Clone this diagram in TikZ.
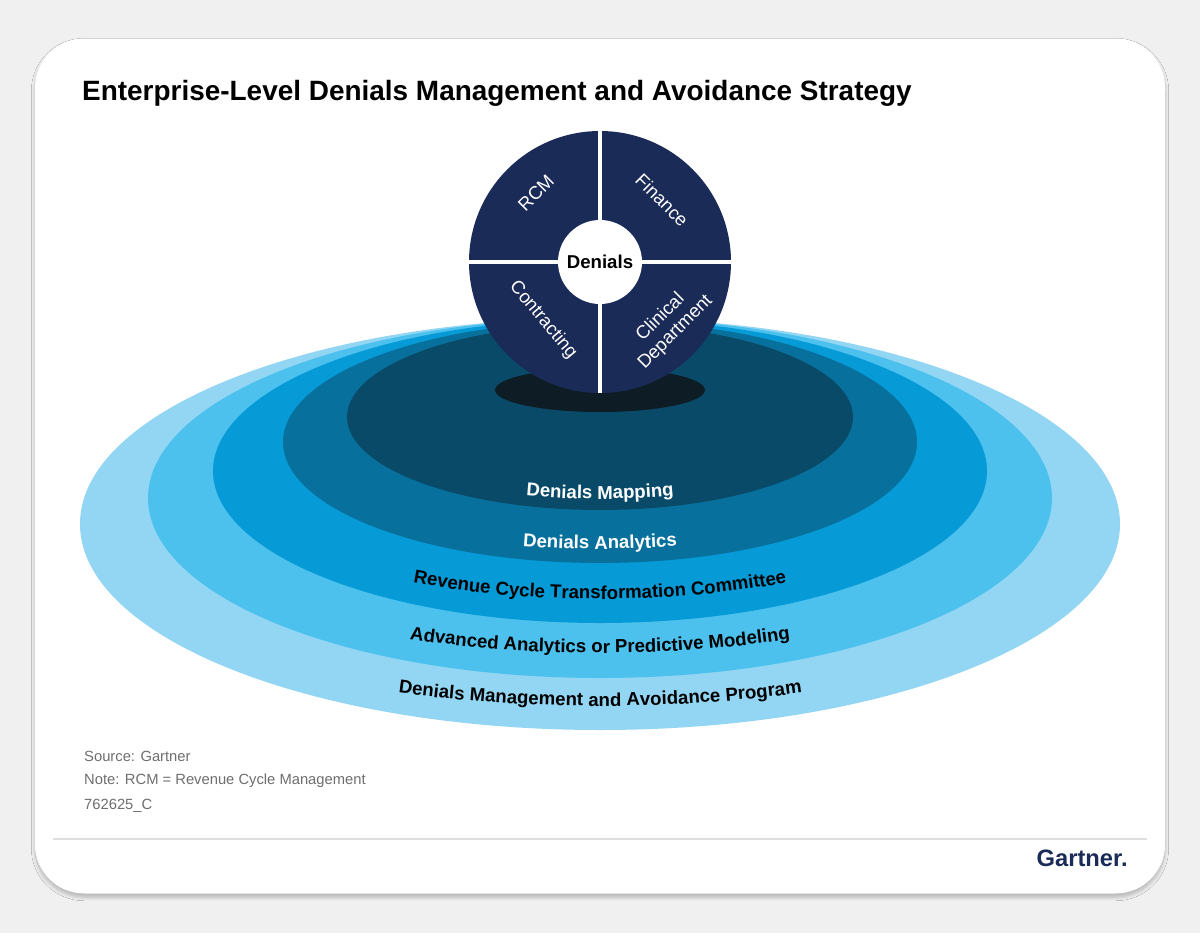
\documentclass[tikz,border=0pt]{standalone}
\usepackage{fontspec}
\setmainfont{Liberation Sans}
\usetikzlibrary{decorations.text,shadows.blur}
\definecolor{navy}{HTML}{1B2B57}
\definecolor{bandA}{HTML}{93D6F4}
\definecolor{bandB}{HTML}{4DC1EE}
\definecolor{bandC}{HTML}{069AD7}
\definecolor{bandD}{HTML}{08709C}
\definecolor{bandE}{HTML}{084A68}
\definecolor{shadowc}{HTML}{0E1D25}
\definecolor{graytxt}{HTML}{6E6E6E}
\tikzset{
  quad/.style={text=white,font=\fontsize{10.5}{12}\selectfont,align=center},
  note/.style={anchor=west,text=graytxt,font=\fontsize{8.4}{10}\selectfont},
  arctext/.style={decorate,decoration={text along path,text align=center,text={#1}}}
}
\begin{document}
\begin{tikzpicture}[x=0.02cm,y=-0.02cm]
\useasboundingbox (0,0) rectangle (1200,933);
\fill[gray!12] (0,0) rectangle (1200,933);
\node[draw=none,fill=white,rounded corners=28pt,minimum width=1130*0.02cm,minimum height=855*0.02cm,blur shadow={shadow blur steps=8,shadow xshift=0pt,shadow yshift=-2pt,shadow opacity=25}] (card) at (600,466) {};
\node[anchor=west,font=\bfseries\fontsize{15.9}{18}\selectfont] (title) at (76,93) {Enterprise-Level Denials Management and Avoidance Strategy};
% bands
\fill[bandA] (600,524) ellipse[x radius=520,y radius=206];
\fill[bandB] (600,498) ellipse[x radius=452,y radius=180];
\fill[bandC] (600,471) ellipse[x radius=387,y radius=152];
\fill[bandD] (600,442) ellipse[x radius=317,y radius=121];
\fill[bandE] (600,417) ellipse[x radius=253,y radius=93];
\fill[shadowc] (600,390) ellipse[x radius=105,y radius=22];
% texts on bands
\path[arctext={|\color{white}\bfseries\fontsize{10.6}{12}\selectfont|Denials Mapping}] (600,417) ++(125:260 and 82) arc[start angle=125,end angle=55,x radius=260,y radius=82];
\path[arctext={|\color{white}\bfseries\fontsize{10.6}{12}\selectfont|Denials Analytics}] (600,442) ++(130:330 and 107) arc[start angle=130,end angle=50,x radius=330,y radius=107];
\path[arctext={|\color{black}\bfseries\fontsize{10.6}{12}\selectfont|Revenue Cycle Transformation Committee}] (600,471) ++(145:380 and 128) arc[start angle=145,end angle=35,x radius=380,y radius=128];
\path[arctext={|\color{black}\bfseries\fontsize{10.6}{12}\selectfont|Advanced Analytics or Predictive Modeling}] (600,498) ++(145:460 and 155) arc[start angle=145,end angle=35,x radius=460,y radius=155];
\path[arctext={|\color{black}\bfseries\fontsize{10.6}{12}\selectfont|Denials Management and Avoidance Program}] (600,524) ++(150:540 and 182) arc[start angle=150,end angle=30,x radius=540,y radius=182];
% circle
\fill[navy] (600,262) circle[radius=131];
\draw[white,line width=2.2pt] (600,131) -- (600,393) (469,262) -- (731,262);
\node[circle,fill=white,minimum size=84*0.02cm,inner sep=0pt,font=\bfseries\fontsize{10.6}{12}\selectfont] (den) at (600,262) {Denials};
\node[quad,rotate=45] (rcm) at (536,193) {RCM};
\node[quad,rotate=-45] (fin) at (662,200) {Finance};
\node[quad,rotate=-50] (con) at (543,320) {Contracting};
\node[quad,rotate=45] (cli) at (668,325) {Clinical\\Department};
% notes
\node[note] (src) at (78,756) {Source: Gartner};
\node[note] (nt) at (78,781) {Note: RCM = Revenue Cycle Management};
\node[note] (id) at (78,806) {762625\_C};
\draw[gray!25,line width=0.6pt] (53,839) -- (1147,839);
\node[anchor=east,text=navy,font=\bfseries\fontsize{13.5}{15}\selectfont,inner sep=0pt] (logo) at (1128,858) {Gartner.};
\end{tikzpicture}
\end{document}
